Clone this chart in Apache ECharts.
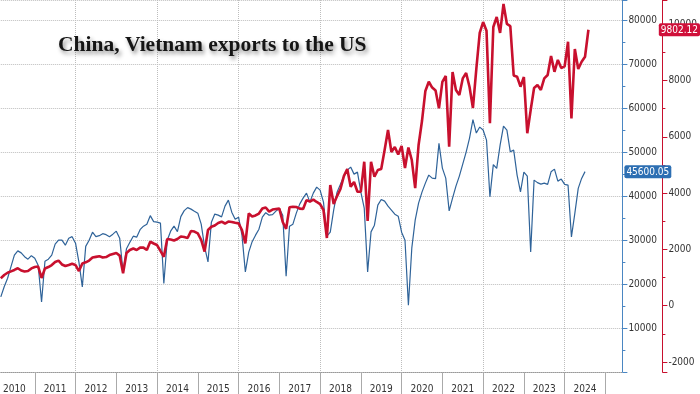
<!DOCTYPE html>
<html>
<head>
<meta charset="utf-8">
<script src="https://cdn.jsdelivr.net/npm/echarts@6/dist/echarts.min.js"></script>
<style>
html,body{margin:0;padding:0;background:#fff;}
#chart{width:700px;height:394px;}
</style>
</head>
<body>
<div id="chart"></div>
<script>
// Month categories: data month, plotted at month end (Feb 2010 .. May 2025)
const months = [];
for (let y = 2010; y <= 2025; y++) {
  for (let m = 1; m <= 12; m++) {
    if (y === 2010 && m < 2) continue;
    if (y === 2025 && m > 5) continue;
    months.push(y + '-' + String(m).padStart(2, '0'));
  }
}
const yearLabels = ['2010','2011','2012','2013','2014','2015','2016','2017','2018','2019','2020','2021','2022','2023','2024'];

const titleText = 'China, Vietnam exports to the US';

// Vietnam exports to the US (right red axis)
const vietnam = [
  975,1090,1170,1220,1270,1330,1250,1215,1230,1325,
  1375,1390,985,1320,1375,1445,1550,1600,1465,1410,1445,1490,
  1445,1230,1500,1540,1605,1710,1735,1760,1710,1730,1800,1835,
  1870,1780,1150,1870,1980,2030,1980,2065,2065,1980,2275,2210,
  2155,1945,1740,2370,2350,2315,2370,2460,2440,2405,2655,2635,
  2570,2335,1920,2690,2805,2850,2940,2985,2920,2990,2975,2945,
  2925,2690,2215,3280,3170,3205,3275,3450,3490,3345,3415,3435,
  3450,2975,2730,3495,3515,3505,3450,3435,3750,3700,3770,3685,
  3610,3400,2405,4285,3610,3895,4145,4605,4855,4225,4395,4050,
  4050,5115,3010,5115,4580,4820,4855,5530,6240,5460,5635,5370,
  5675,4890,5620,5175,4180,5710,6560,7630,7955,7750,7645,7010,
  7950,8160,5650,8300,7665,7485,8075,8265,7770,7025,8410,9690,
  10075,9770,6480,9900,10255,9690,10720,10010,9935,8180,8135,7780,
  8125,6125,6950,7735,7840,7665,8075,8195,8870,8310,8730,8445,
  8500,9375,6655,9120,8410,8665,8845,9802.12
];

// China exports to the US (left blue axis)
const china = [
  17085,19410,21345,23965,26585,27565,27110,26245,25675,26470,
  25900,24305,15945,25220,25675,26585,29090,30000,30000,28860,30455,30800,
  29320,24990,19365,28590,30000,31825,30800,31025,31480,31255,30800,31370,
  32050,30455,22710,28065,29545,30910,30685,32395,33190,33645,35580,34215,
  34100,33875,20140,30000,32050,33190,31935,35355,36720,37405,37065,36605,
  36150,33645,28475,25060,34100,35935,35695,35310,37745,39110,36380,34785,
  35240,31140,22780,27270,29660,31140,32505,35240,36265,35695,35810,36605,
  37225,35695,21800,33190,33645,36150,38200,39570,40710,38660,40710,42075,
  41390,38660,30910,31825,36835,40935,42760,44580,45945,46630,45035,45490,
  40935,37290,22780,31890,33420,37975,39270,38885,37745,36835,35925,35470,
  31825,30000,15195,28180,34555,38430,40935,42985,44810,44125,44010,52030,
  46400,44125,36675,39570,42300,44580,47315,50045,53235,57450,54375,55740,
  55060,52780,39865,47200,46335,51640,55970,55060,50115,50500,44810,41000,
  45490,44580,27340,43670,43100,42760,42985,42690,45560,46175,43440,43900,
  42690,42530,30750,36085,41780,44055,45600.05
];

const lastChina = china[china.length - 1];
const lastVietnam = vietnam[vietnam.length - 1];

const RED = '#c8102e';
const BLUE_LINE = '#2f6399';
const BLUE_AXIS = '#4a86c2';
const LABEL_FONT = "'Liberation Sans Narrow','DejaVu Sans Condensed','Liberation Sans',sans-serif";
const plain = function (v) { return String(v); };

const chart = echarts.init(document.getElementById('chart'), null, {renderer: 'canvas'});
chart.setOption({
  animation: false,
  backgroundColor: '#ffffff',
  title: {
    text: titleText,
    left: 53,
    top: 29,
    textStyle: {
      fontFamily: "'Liberation Serif','DejaVu Serif',serif",
      fontWeight: 'bold',
      fontSize: 21.5,
      color: '#151515',
      textShadowColor: 'rgba(0,0,0,0.45)',
      textShadowBlur: 4,
      textShadowOffsetX: 2,
      textShadowOffsetY: 3
    }
  },
  grid: {left: 0, right: 75, top: 0, bottom: 22, containLabel: false},
  xAxis: {
    type: 'category',
    data: months,
    boundaryGap: false,
    axisLine: {show: true, lineStyle: {color: '#999', width: 1, type: 'dotted'}},
    axisTick: {
      show: true,
      length: 22,
      lineStyle: {color: '#aaa', width: 1},
      interval: function (i, v) { return v.slice(5) === '12'; }
    },
    axisLabel: {
      show: true,
      margin: 12,
      color: '#333',
      fontSize: 10,
      fontFamily: LABEL_FONT,
      interval: function (i, v) { return v.slice(5) === '06' && yearLabels.indexOf(v.slice(0, 4)) >= 0; },
      formatter: function (v) { return v.slice(0, 4); }
    },
    splitLine: {
      show: true,
      lineStyle: {color: '#bdbdbd', type: 'dotted', width: 1},
      interval: function (i, v) { return v.slice(5) === '12' && (+v.slice(0, 4)) % 2 === 1; }
    }
  },
  yAxis: [
    {
      type: 'value',
      position: 'right',
      min: 0,
      max: 84660,
      interval: 10000,
      axisLine: {show: true, lineStyle: {color: BLUE_AXIS, width: 1}},
      axisTick: {show: true, length: 5, lineStyle: {color: BLUE_AXIS}},
      minorTick: {show: true, splitNumber: 2, length: 3, lineStyle: {color: BLUE_AXIS}},
      axisLabel: {
        margin: 6, color: '#333', fontSize: 10, fontFamily: LABEL_FONT,
        showMinLabel: false, showMaxLabel: false, formatter: plain
      },
      splitLine: {show: true, lineStyle: {color: '#bdbdbd', type: 'dotted', width: 1}},
      axisPointer: {
        show: true,
        type: 'line',
        value: lastChina,
        status: 'show',
        triggerTooltip: false,
        lineStyle: {opacity: 0},
        label: {
          show: true,
          margin: 2,
          backgroundColor: '#2d6fb3',
          color: '#fff',
          fontSize: 10,
          fontFamily: LABEL_FONT,
          padding: [2, 2, 1, 2],
          borderRadius: 2,
          formatter: function (p) { return Number(p.value).toFixed(2); }
        },
        handle: {show: false}
      }
    },
    {
      type: 'value',
      position: 'right',
      offset: 40,
      min: -2355,
      max: 10860,
      splitNumber: 6,
      axisLine: {show: true, lineStyle: {color: RED, width: 1}},
      axisTick: {show: true, length: 5, lineStyle: {color: RED}},
      minorTick: {show: true, splitNumber: 2, length: 3, lineStyle: {color: RED}},
      axisLabel: {
        margin: 6, color: '#333', fontSize: 10, fontFamily: LABEL_FONT,
        showMinLabel: false, showMaxLabel: false, formatter: plain
      },
      splitLine: {show: false},
      axisPointer: {
        show: true,
        type: 'line',
        value: lastVietnam,
        status: 'show',
        triggerTooltip: false,
        lineStyle: {opacity: 0},
        label: {
          show: true,
          margin: 2,
          backgroundColor: '#d0103a',
          color: '#fff',
          fontSize: 10,
          fontFamily: LABEL_FONT,
          padding: [2, 2, 1, 2],
          borderRadius: 2,
          formatter: function (p) { return Number(p.value).toFixed(2); }
        },
        handle: {show: false}
      }
    }
  ],
  series: [
    {
      name: 'China',
      type: 'line',
      yAxisIndex: 0,
      data: china,
      showSymbol: false,
      symbol: 'none',
      lineStyle: {color: BLUE_LINE, width: 1.2},
      z: 2
    },
    {
      name: 'Vietnam',
      type: 'line',
      yAxisIndex: 1,
      data: vietnam,
      showSymbol: false,
      symbol: 'none',
      lineStyle: {color: RED, width: 2.6},
      z: 3
    }
  ]
});
</script>
</body>
</html>
